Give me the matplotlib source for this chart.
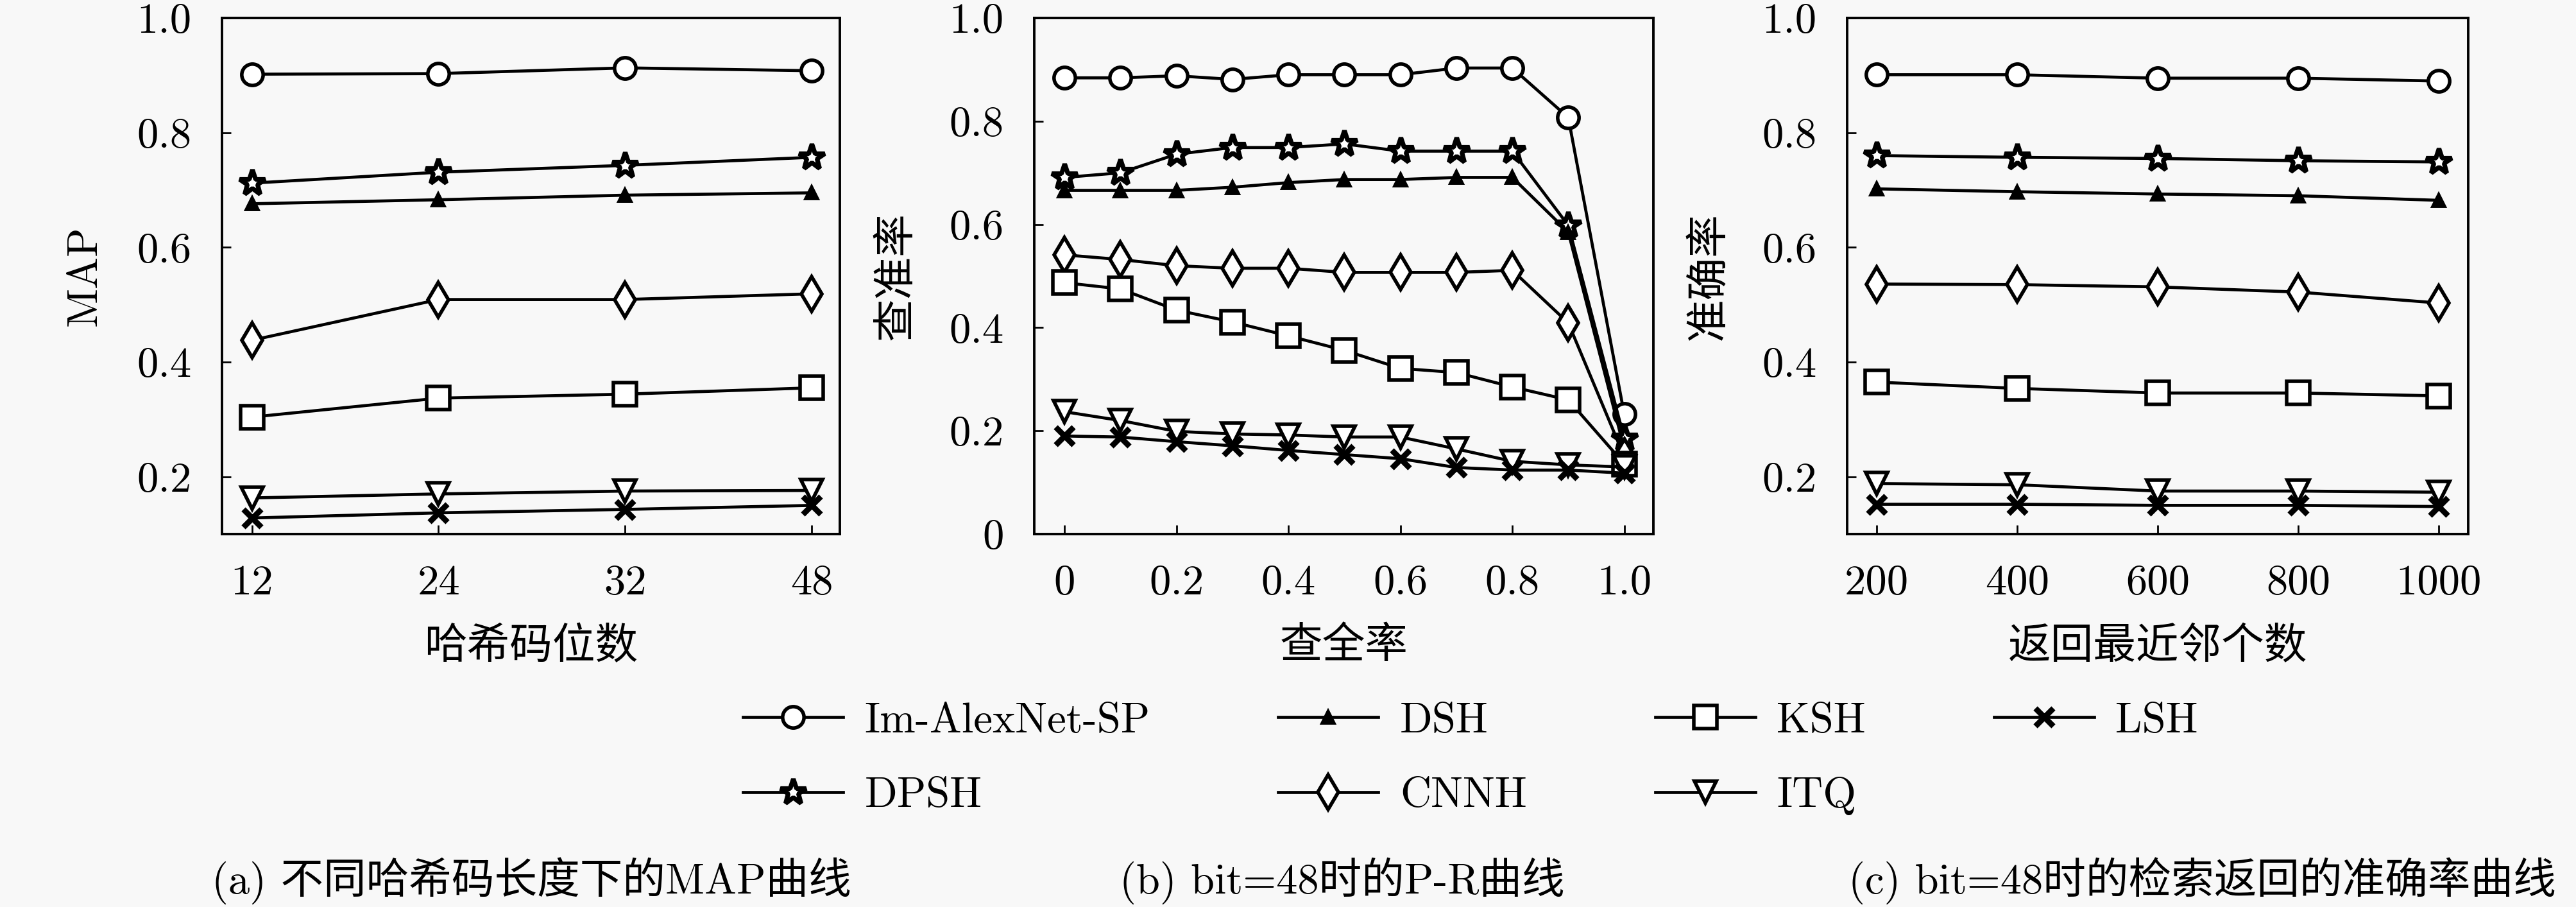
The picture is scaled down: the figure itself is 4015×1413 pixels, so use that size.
import matplotlib
matplotlib.use('Agg')
import matplotlib.pyplot as plt

plt.rcParams['font.family'] = ['cmr10', 'Noto Sans CJK SC']
plt.rcParams['axes.unicode_minus'] = False
plt.rcParams['mathtext.fontset'] = 'cm'

# ---------------- data ----------------
methods = ['Im-AlexNet-SP', 'DPSH', 'DSH', 'CNNH', 'KSH', 'ITQ', 'LSH']

# (a) MAP vs hash code length
bits = ['12', '24', '32', '48']
map_im = [0.902, 0.903, 0.913, 0.908]
map_dpsh = [0.712, 0.731, 0.743, 0.757]
map_dsh = [0.676, 0.683, 0.691, 0.695]
map_cnnh = [0.438, 0.509, 0.509, 0.519]
map_ksh = [0.304, 0.337, 0.344, 0.355]
map_itq = [0.163, 0.170, 0.175, 0.176]
map_lsh = [0.128, 0.137, 0.143, 0.150]

# (b) P-R curve at 48 bits
recall = [0, 0.1, 0.2, 0.3, 0.4, 0.5, 0.6, 0.7, 0.8, 0.9, 1.0]
pr_im = [0.884, 0.884, 0.888, 0.881, 0.890, 0.890, 0.890, 0.903, 0.903, 0.807, 0.232]
pr_dpsh = [0.691, 0.700, 0.736, 0.749, 0.749, 0.756, 0.742, 0.742, 0.742, 0.598, 0.185]
pr_dsh = [0.666, 0.666, 0.666, 0.672, 0.681, 0.687, 0.687, 0.691, 0.691, 0.585, 0.165]
pr_cnnh = [0.541, 0.532, 0.520, 0.515, 0.515, 0.507, 0.507, 0.507, 0.511, 0.409, 0.150]
pr_ksh = [0.487, 0.475, 0.434, 0.411, 0.384, 0.356, 0.321, 0.313, 0.285, 0.260, 0.136]
pr_itq = [0.237, 0.220, 0.199, 0.194, 0.192, 0.188, 0.188, 0.165, 0.141, 0.134, 0.130]
pr_lsh = [0.190, 0.188, 0.179, 0.171, 0.162, 0.154, 0.146, 0.129, 0.124, 0.124, 0.118]

# (c) precision vs number of returned neighbours
neighbours = [200, 400, 600, 800, 1000]
pc_im = [0.901, 0.901, 0.895, 0.895, 0.890]
pc_dpsh = [0.760, 0.757, 0.755, 0.751, 0.749]
pc_dsh = [0.702, 0.697, 0.693, 0.690, 0.682]
pc_cnnh = [0.536, 0.535, 0.531, 0.522, 0.503]
pc_ksh = [0.365, 0.354, 0.346, 0.346, 0.341]
pc_itq = [0.188, 0.186, 0.175, 0.175, 0.173]
pc_lsh = [0.152, 0.152, 0.150, 0.150, 0.148]

ytick_a = [0.2, 0.4, 0.6, 0.8, 1.0]
ytick_b = [0, 0.2, 0.4, 0.6, 0.8, 1.0]
xtick_b = [0, 0.2, 0.4, 0.6, 0.8, 1.0]
xtick_b_labels = ['0', '0.2', '0.4', '0.6', '0.8', '1.0']
ytick_b_labels = ['0', '0.2', '0.4', '0.6', '0.8', '1.0']
ytick_a_labels = ['0.2', '0.4', '0.6', '0.8', '1.0']
xtick_c_labels = ['200', '400', '600', '800', '1000']

captions = ['(a) 不同哈希码长度下的MAP曲线', '(b) bit=48时的P-R曲线', '(c) bit=48时的检索返回的准确率曲线']
xlabels = ['哈希码位数', '查全率', '返回最近邻个数']
ylabels = ['MAP', '查准率', '准确率']

# ---------------- styles ----------------
BG = '#f8f8f8'
FS = 24
styles = {
    'Im-AlexNet-SP': dict(marker='o', ms=12, mfc='white', mew=2.0),
    'DPSH': dict(marker='*', ms=15, mfc='white', mew=2.6),
    'DSH': dict(marker='^', ms=7, mfc='black', mew=1.4),
    'CNNH': dict(marker='d', ms=14, mfc='white', mew=2.0),
    'KSH': dict(marker='s', ms=13, mfc='white', mew=2.0),
    'ITQ': dict(marker='v', ms=12, mfc='white', mew=2.0),
    'LSH': dict(marker='x', ms=10, mfc='black', mew=3.2),
}

fig = plt.figure(figsize=(4016 / 200, 1413 / 200), dpi=200, facecolor=BG)

W, H = 4016, 1413
def ax_rect(l, r, t, b):
    return [l / W, (H - b) / H, (r - l) / W, (b - t) / H]

axa = fig.add_axes(ax_rect(346, 1309, 28, 832))
axb = fig.add_axes(ax_rect(1612, 2577, 28, 832))
axc = fig.add_axes(ax_rect(2879, 3847, 28, 832))

def draw(ax, x, series):
    for name, y in zip(methods, series):
        st = styles[name]
        ax.plot(x, y, color='black', lw=1.7, marker=st['marker'], ms=st['ms'],
                mfc=st['mfc'], mec='black', mew=st['mew'], label=name)

xa = list(range(len(bits)))
draw(axa, xa, [map_im, map_dpsh, map_dsh, map_cnnh, map_ksh, map_itq, map_lsh])
draw(axb, recall, [pr_im, pr_dpsh, pr_dsh, pr_cnnh, pr_ksh, pr_itq, pr_lsh])
draw(axc, neighbours, [pc_im, pc_dpsh, pc_dsh, pc_cnnh, pc_ksh, pc_itq, pc_lsh])

axa.set_xlim(-0.16, 3.15)
axa.set_ylim(0.1, 1.0)
axa.set_xticks(xa)
axa.set_xticklabels(bits)
axa.set_yticks(ytick_a)
axa.set_yticklabels(ytick_a_labels)

axb.set_xlim(-0.054, 1.052)
axb.set_ylim(0, 1.0)
axb.set_xticks(xtick_b)
axb.set_xticklabels(xtick_b_labels)
axb.set_yticks(ytick_b)
axb.set_yticklabels(ytick_b_labels)

axc.set_xlim(158, 1042)
axc.set_ylim(0.1, 1.0)
axc.set_xticks(neighbours)
axc.set_xticklabels(xtick_c_labels)
axc.set_yticks(ytick_a)
axc.set_yticklabels(ytick_a_labels)

for ax, xl, yl in zip([axa, axb, axc], xlabels, ylabels):
    ax.set_facecolor(BG)
    for s in ax.spines.values():
        s.set_linewidth(1.4)
    ax.tick_params(direction='in', length=5, width=1.0, labelsize=FS, pad=17,
                   top=False, right=False)
    ax.set_xlabel(xl, fontsize=FS)
    ax.set_ylabel(yl, fontsize=FS)
    ax.xaxis.set_label_coords(0.5, -0.18)
    ax.yaxis.set_label_coords(-0.19, 0.5)

handles, labels = axa.get_legend_handles_labels()
fig.legend(handles, labels, loc='upper left', bbox_to_anchor=(1158 / W, (H - 1094) / H),
           ncol=4, frameon=False, fontsize=FS, handlelength=2.34, handletextpad=0.5,
           columnspacing=3.0, labelspacing=0.85, borderaxespad=0, borderpad=0)

for cx, cap in zip([828, 2092, 3432], captions):
    fig.text(cx / W, (H - 1372) / H, cap, ha='center', va='center', fontsize=FS)

fig.savefig('out.png', dpi=200, facecolor=BG)
